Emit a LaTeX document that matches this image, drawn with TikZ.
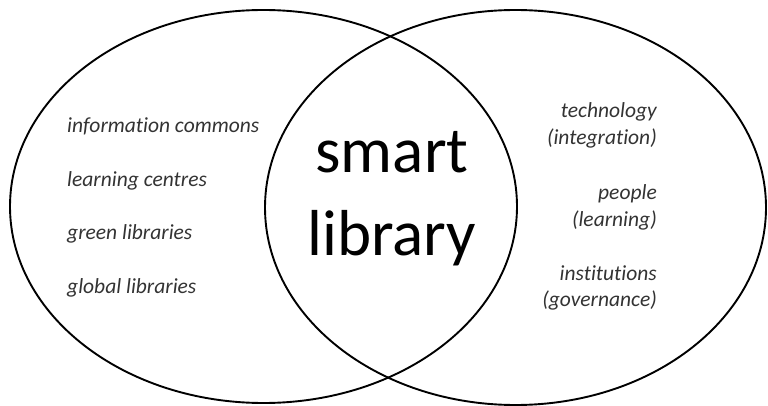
\documentclass[tikz,border=0pt]{standalone}
\usepackage{fontspec}
\setmainfont[Ligatures=NoCommon]{Carlito}
\usetikzlibrary{shapes.geometric}
\begin{document}
\begin{tikzpicture}[x=1pt,y=-1pt,
  ring/.style={draw=black, line width=1.9pt, ellipse, inner sep=0pt},
  item/.style={font=\fontsize{21.5}{24}\selectfont\itshape, text=black!80, inner sep=0pt},
  big/.style={font=\fontsize{65}{82}\selectfont, text=black, inner sep=0pt}]
\useasboundingbox (0,0) rectangle (768,406);
\node[ring, minimum width=507pt, minimum height=393pt] (left) at (263.5,206.5) {};
\node[ring, minimum width=501pt, minimum height=395pt] (right) at (515.5,207.5) {};
\node[big, anchor=base] (smart) at (392,173) {smart};
\node[big, anchor=base] (library) at (392,255) {library};
\node[item, anchor=base west] (l1) at (67,133) {information commons};
\node[item, anchor=base west] (l2) at (67,186) {learning centres};
\node[item, anchor=base west] (l3) at (67,240) {green libraries};
\node[item, anchor=base west] (l4) at (67,293) {global libraries};
\node[item, anchor=base east] (r1) at (657,118) {technology};
\node[item, anchor=base east] (r2) at (657,145) {(integration)};
\node[item, anchor=base east] (r3) at (657,200) {people};
\node[item, anchor=base east] (r4) at (657,226) {(learning)};
\node[item, anchor=base east] (r5) at (657,280) {institutions};
\node[item, anchor=base east] (r6) at (657,306) {(governance)};
\end{tikzpicture}
\end{document}
